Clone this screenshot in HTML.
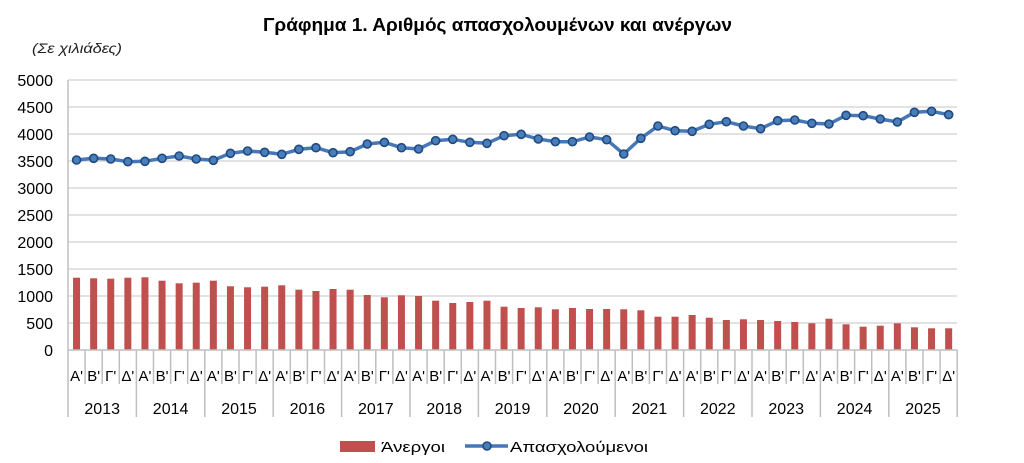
<!DOCTYPE html>
<html><head><meta charset="utf-8"><style>
html,body{margin:0;padding:0;background:#fff;}
svg{display:block;font-family:"Liberation Sans","DejaVu Sans",sans-serif;}
</style></head><body>
<svg width="1024" height="463" viewBox="0 0 1024 463" xmlns="http://www.w3.org/2000/svg">
<rect width="1024" height="463" fill="#fff"/>
<text x="263" y="31" font-size="18" font-weight="bold" textLength="469" lengthAdjust="spacingAndGlyphs" fill="#000">Γράφημα 1. Αριθμός απασχολουμένων και ανέργων</text>
<text x="32" y="53" font-size="14" font-style="italic" textLength="90" lengthAdjust="spacingAndGlyphs" fill="#222">(Σε χιλιάδες)</text>
<g stroke="#d9d9d9" stroke-width="1.5">
<line x1="68" y1="80" x2="957" y2="80"/><line x1="68" y1="107" x2="957" y2="107"/><line x1="68" y1="134" x2="957" y2="134"/><line x1="68" y1="161" x2="957" y2="161"/><line x1="68" y1="188" x2="957" y2="188"/><line x1="68" y1="215" x2="957" y2="215"/><line x1="68" y1="242" x2="957" y2="242"/><line x1="68" y1="269" x2="957" y2="269"/><line x1="68" y1="296" x2="957" y2="296"/><line x1="68" y1="323" x2="957" y2="323"/>
</g>
<g font-size="16" text-anchor="end" fill="#000">
<text x="53" y="86">5000</text><text x="53" y="113">4500</text><text x="53" y="140">4000</text><text x="53" y="167">3500</text><text x="53" y="194">3000</text><text x="53" y="221">2500</text><text x="53" y="248">2000</text><text x="53" y="275">1500</text><text x="53" y="302">1000</text><text x="53" y="329">500</text><text x="53" y="356">0</text>
</g>
<g fill="#C0504D">
<rect x="73.05" y="277.7" width="7" height="72.3"/><rect x="90.15" y="278.3" width="7" height="71.7"/><rect x="107.25" y="278.7" width="7" height="71.3"/><rect x="124.35" y="277.7" width="7" height="72.3"/><rect x="141.45" y="277.3" width="7" height="72.7"/><rect x="158.55" y="280.7" width="7" height="69.3"/><rect x="175.65" y="283.3" width="7" height="66.7"/><rect x="192.75" y="282.7" width="7" height="67.3"/><rect x="209.85" y="280.7" width="7" height="69.3"/><rect x="226.95" y="286.3" width="7" height="63.7"/><rect x="244.05" y="287.3" width="7" height="62.7"/><rect x="261.15" y="286.7" width="7" height="63.3"/><rect x="278.25" y="285.3" width="7" height="64.7"/><rect x="295.35" y="289.7" width="7" height="60.3"/><rect x="312.45" y="291" width="7" height="59"/><rect x="329.55" y="289" width="7" height="61"/><rect x="346.65" y="289.7" width="7" height="60.3"/><rect x="363.75" y="295" width="7" height="55"/><rect x="380.85" y="297.3" width="7" height="52.7"/><rect x="397.95" y="295.3" width="7" height="54.7"/><rect x="415.05" y="296" width="7" height="54"/><rect x="432.15" y="300.7" width="7" height="49.3"/><rect x="449.25" y="303" width="7" height="47"/><rect x="466.35" y="302" width="7" height="48"/><rect x="483.45" y="300.7" width="7" height="49.3"/><rect x="500.55" y="306.7" width="7" height="43.3"/><rect x="517.65" y="308" width="7" height="42"/><rect x="534.75" y="307.3" width="7" height="42.7"/><rect x="551.85" y="309.3" width="7" height="40.7"/><rect x="568.95" y="308" width="7" height="42"/><rect x="586.05" y="309" width="7" height="41"/><rect x="603.15" y="309" width="7" height="41"/><rect x="620.25" y="309.3" width="7" height="40.7"/><rect x="637.35" y="310.3" width="7" height="39.7"/><rect x="654.45" y="316.7" width="7" height="33.3"/><rect x="671.55" y="316.7" width="7" height="33.3"/><rect x="688.65" y="315" width="7" height="35"/><rect x="705.75" y="317.7" width="7" height="32.3"/><rect x="722.85" y="320" width="7" height="30"/><rect x="739.95" y="319.3" width="7" height="30.7"/><rect x="757.05" y="320" width="7" height="30"/><rect x="774.15" y="321" width="7" height="29"/><rect x="791.25" y="322" width="7" height="28"/><rect x="808.35" y="323.3" width="7" height="26.7"/><rect x="825.45" y="318.7" width="7" height="31.3"/><rect x="842.55" y="324.3" width="7" height="25.7"/><rect x="859.65" y="326.7" width="7" height="23.3"/><rect x="876.75" y="325.7" width="7" height="24.3"/><rect x="893.85" y="323.3" width="7" height="26.7"/><rect x="910.95" y="327.3" width="7" height="22.7"/><rect x="928.05" y="328.3" width="7" height="21.7"/><rect x="945.15" y="328.3" width="7" height="21.7"/>
</g>
<g stroke="#bfbfbf" stroke-width="1.5">
<line x1="68" y1="80" x2="68" y2="350"/>
<line x1="68" y1="350" x2="957.2" y2="350"/>
<line x1="68" y1="350" x2="68" y2="417"/><line x1="85.1" y1="350" x2="85.1" y2="384"/><line x1="102.2" y1="350" x2="102.2" y2="384"/><line x1="119.3" y1="350" x2="119.3" y2="384"/>
<line x1="136.4" y1="350" x2="136.4" y2="417"/><line x1="153.5" y1="350" x2="153.5" y2="384"/><line x1="170.6" y1="350" x2="170.6" y2="384"/><line x1="187.7" y1="350" x2="187.7" y2="384"/>
<line x1="204.8" y1="350" x2="204.8" y2="417"/><line x1="221.9" y1="350" x2="221.9" y2="384"/><line x1="239" y1="350" x2="239" y2="384"/><line x1="256.1" y1="350" x2="256.1" y2="384"/>
<line x1="273.2" y1="350" x2="273.2" y2="417"/><line x1="290.3" y1="350" x2="290.3" y2="384"/><line x1="307.4" y1="350" x2="307.4" y2="384"/><line x1="324.5" y1="350" x2="324.5" y2="384"/>
<line x1="341.6" y1="350" x2="341.6" y2="417"/><line x1="358.7" y1="350" x2="358.7" y2="384"/><line x1="375.8" y1="350" x2="375.8" y2="384"/><line x1="392.9" y1="350" x2="392.9" y2="384"/>
<line x1="410" y1="350" x2="410" y2="417"/><line x1="427.1" y1="350" x2="427.1" y2="384"/><line x1="444.2" y1="350" x2="444.2" y2="384"/><line x1="461.3" y1="350" x2="461.3" y2="384"/>
<line x1="478.4" y1="350" x2="478.4" y2="417"/><line x1="495.5" y1="350" x2="495.5" y2="384"/><line x1="512.6" y1="350" x2="512.6" y2="384"/><line x1="529.7" y1="350" x2="529.7" y2="384"/>
<line x1="546.8" y1="350" x2="546.8" y2="417"/><line x1="563.9" y1="350" x2="563.9" y2="384"/><line x1="581" y1="350" x2="581" y2="384"/><line x1="598.1" y1="350" x2="598.1" y2="384"/>
<line x1="615.2" y1="350" x2="615.2" y2="417"/><line x1="632.3" y1="350" x2="632.3" y2="384"/><line x1="649.4" y1="350" x2="649.4" y2="384"/><line x1="666.5" y1="350" x2="666.5" y2="384"/>
<line x1="683.6" y1="350" x2="683.6" y2="417"/><line x1="700.7" y1="350" x2="700.7" y2="384"/><line x1="717.8" y1="350" x2="717.8" y2="384"/><line x1="734.9" y1="350" x2="734.9" y2="384"/>
<line x1="752" y1="350" x2="752" y2="417"/><line x1="769.1" y1="350" x2="769.1" y2="384"/><line x1="786.2" y1="350" x2="786.2" y2="384"/><line x1="803.3" y1="350" x2="803.3" y2="384"/>
<line x1="820.4" y1="350" x2="820.4" y2="417"/><line x1="837.5" y1="350" x2="837.5" y2="384"/><line x1="854.6" y1="350" x2="854.6" y2="384"/><line x1="871.7" y1="350" x2="871.7" y2="384"/>
<line x1="888.8" y1="350" x2="888.8" y2="417"/><line x1="905.9" y1="350" x2="905.9" y2="384"/><line x1="923" y1="350" x2="923" y2="384"/><line x1="940.1" y1="350" x2="940.1" y2="384"/>
<line x1="957.2" y1="350" x2="957.2" y2="417"/>
</g>
<g font-size="15" text-anchor="middle" fill="#000">
<text x="76.55" y="381">A'</text><text x="93.65" y="381">B'</text><text x="110.75" y="381">Γ'</text><text x="127.85" y="381">Δ'</text>
<text x="144.95" y="381">A'</text><text x="162.05" y="381">B'</text><text x="179.15" y="381">Γ'</text><text x="196.25" y="381">Δ'</text>
<text x="213.35" y="381">A'</text><text x="230.45" y="381">B'</text><text x="247.55" y="381">Γ'</text><text x="264.65" y="381">Δ'</text>
<text x="281.75" y="381">A'</text><text x="298.85" y="381">B'</text><text x="315.95" y="381">Γ'</text><text x="333.05" y="381">Δ'</text>
<text x="350.15" y="381">A'</text><text x="367.25" y="381">B'</text><text x="384.35" y="381">Γ'</text><text x="401.45" y="381">Δ'</text>
<text x="418.55" y="381">A'</text><text x="435.65" y="381">B'</text><text x="452.75" y="381">Γ'</text><text x="469.85" y="381">Δ'</text>
<text x="486.95" y="381">A'</text><text x="504.05" y="381">B'</text><text x="521.15" y="381">Γ'</text><text x="538.25" y="381">Δ'</text>
<text x="555.35" y="381">A'</text><text x="572.45" y="381">B'</text><text x="589.55" y="381">Γ'</text><text x="606.65" y="381">Δ'</text>
<text x="623.75" y="381">A'</text><text x="640.85" y="381">B'</text><text x="657.95" y="381">Γ'</text><text x="675.05" y="381">Δ'</text>
<text x="692.15" y="381">A'</text><text x="709.25" y="381">B'</text><text x="726.35" y="381">Γ'</text><text x="743.45" y="381">Δ'</text>
<text x="760.55" y="381">A'</text><text x="777.65" y="381">B'</text><text x="794.75" y="381">Γ'</text><text x="811.85" y="381">Δ'</text>
<text x="828.95" y="381">A'</text><text x="846.05" y="381">B'</text><text x="863.15" y="381">Γ'</text><text x="880.25" y="381">Δ'</text>
<text x="897.35" y="381">A'</text><text x="914.45" y="381">B'</text><text x="931.55" y="381">Γ'</text><text x="948.65" y="381">Δ'</text>
</g>
<g font-size="16" text-anchor="middle" fill="#000">
<text x="102.2" y="414">2013</text><text x="170.6" y="414">2014</text><text x="239" y="414">2015</text><text x="307.4" y="414">2016</text><text x="375.8" y="414">2017</text><text x="444.2" y="414">2018</text><text x="512.6" y="414">2019</text><text x="581" y="414">2020</text><text x="649.4" y="414">2021</text><text x="717.8" y="414">2022</text><text x="786.2" y="414">2023</text><text x="854.6" y="414">2024</text><text x="923" y="414">2025</text>
</g>
<polyline fill="none" stroke="#4677B8" stroke-width="3.5" stroke-linejoin="round" points="76.55,160 93.65,158.3 110.75,159 127.85,161.7 144.95,161.3 162.05,158.3 179.15,156 196.25,159 213.35,160.3 230.45,153.3 247.55,151 264.65,152.3 281.75,154.3 298.85,149.3 315.95,147.7 333.05,152.7 350.15,151.7 367.25,144 384.35,142.3 401.45,147.7 418.55,149 435.65,140.7 452.75,139.3 469.85,142.3 486.95,143.3 504.05,135.7 521.15,134.3 538.25,139 555.35,141.7 572.45,141.7 589.55,137 606.65,139.7 623.75,154 640.85,138.3 657.95,126 675.05,130.7 692.15,131.3 709.25,124.3 726.35,121.7 743.45,126 760.55,128.7 777.65,120.7 794.75,120 811.85,123.3 828.95,124 846.05,115.3 863.15,115.7 880.25,119 897.35,122 914.45,112.3 931.55,111.3 948.65,114.7"/>
<g fill="#4A7EBB" stroke="#1F4A80" stroke-width="1.6">
<circle cx="76.55" cy="160" r="4"/><circle cx="93.65" cy="158.3" r="4"/><circle cx="110.75" cy="159" r="4"/><circle cx="127.85" cy="161.7" r="4"/><circle cx="144.95" cy="161.3" r="4"/><circle cx="162.05" cy="158.3" r="4"/><circle cx="179.15" cy="156" r="4"/><circle cx="196.25" cy="159" r="4"/><circle cx="213.35" cy="160.3" r="4"/><circle cx="230.45" cy="153.3" r="4"/><circle cx="247.55" cy="151" r="4"/><circle cx="264.65" cy="152.3" r="4"/><circle cx="281.75" cy="154.3" r="4"/><circle cx="298.85" cy="149.3" r="4"/><circle cx="315.95" cy="147.7" r="4"/><circle cx="333.05" cy="152.7" r="4"/><circle cx="350.15" cy="151.7" r="4"/><circle cx="367.25" cy="144" r="4"/><circle cx="384.35" cy="142.3" r="4"/><circle cx="401.45" cy="147.7" r="4"/><circle cx="418.55" cy="149" r="4"/><circle cx="435.65" cy="140.7" r="4"/><circle cx="452.75" cy="139.3" r="4"/><circle cx="469.85" cy="142.3" r="4"/><circle cx="486.95" cy="143.3" r="4"/><circle cx="504.05" cy="135.7" r="4"/><circle cx="521.15" cy="134.3" r="4"/><circle cx="538.25" cy="139" r="4"/><circle cx="555.35" cy="141.7" r="4"/><circle cx="572.45" cy="141.7" r="4"/><circle cx="589.55" cy="137" r="4"/><circle cx="606.65" cy="139.7" r="4"/><circle cx="623.75" cy="154" r="4"/><circle cx="640.85" cy="138.3" r="4"/><circle cx="657.95" cy="126" r="4"/><circle cx="675.05" cy="130.7" r="4"/><circle cx="692.15" cy="131.3" r="4"/><circle cx="709.25" cy="124.3" r="4"/><circle cx="726.35" cy="121.7" r="4"/><circle cx="743.45" cy="126" r="4"/><circle cx="760.55" cy="128.7" r="4"/><circle cx="777.65" cy="120.7" r="4"/><circle cx="794.75" cy="120" r="4"/><circle cx="811.85" cy="123.3" r="4"/><circle cx="828.95" cy="124" r="4"/><circle cx="846.05" cy="115.3" r="4"/><circle cx="863.15" cy="115.7" r="4"/><circle cx="880.25" cy="119" r="4"/><circle cx="897.35" cy="122" r="4"/><circle cx="914.45" cy="112.3" r="4"/><circle cx="931.55" cy="111.3" r="4"/><circle cx="948.65" cy="114.7" r="4"/>
</g>
<rect x="340" y="441" width="35" height="11" fill="#C0504D"/>
<text x="381" y="452" font-size="15" textLength="64" lengthAdjust="spacingAndGlyphs" fill="#000">Άνεργοι</text>
<line x1="465" y1="446" x2="508" y2="446" stroke="#4677B8" stroke-width="3.5"/>
<circle cx="487" cy="446" r="4" fill="#4A7EBB" stroke="#1F4A80" stroke-width="1.6"/>
<text x="510" y="452" font-size="15" textLength="138" lengthAdjust="spacingAndGlyphs" fill="#000">Απασχολούμενοι</text>
</svg>
</body></html>
